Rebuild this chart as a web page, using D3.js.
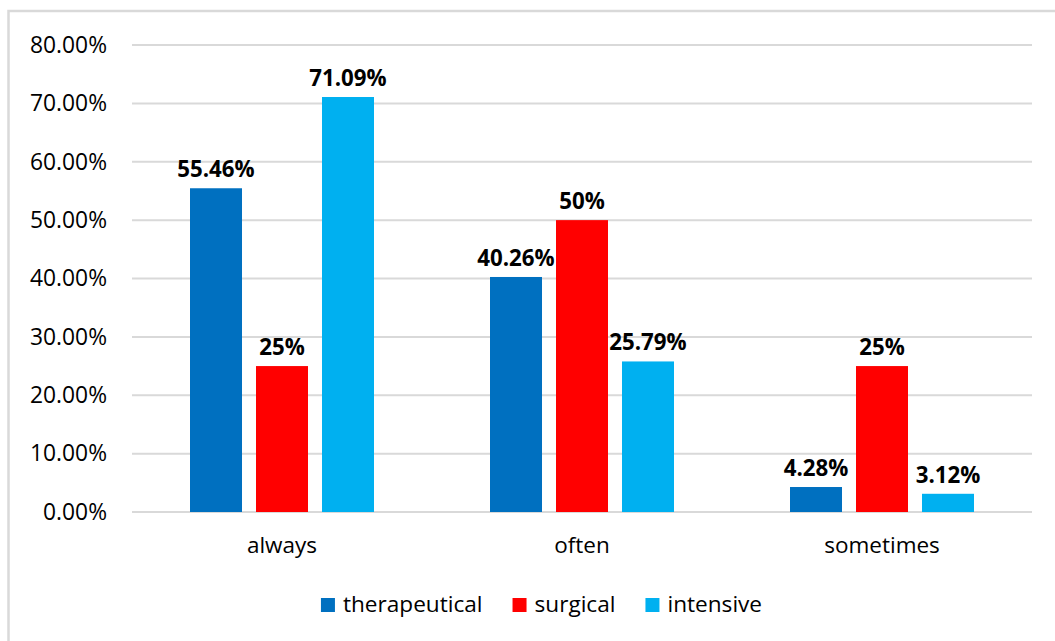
<!DOCTYPE html>
<html>
<head>
<meta charset="utf-8">
<script src="https://cdn.jsdelivr.net/npm/d3@7/dist/d3.min.js"></script>
<style>
  html, body { margin: 0; padding: 0; background: #fff; }
  svg { display: block; font-family: "Open Sans", "Noto Sans", sans-serif; }
</style>
</head>
<body>
<svg id="chart" width="1055" height="641"></svg>
<script>
// Frequency of each answer, by ward type (percent)
const categories = ["always", "often", "sometimes"];
const series = ["therapeutical", "surgical", "intensive"];
const therapeutical = [55.46, 40.26, 4.28];
const surgical = [25, 50, 25];
const intensive = [71.09, 25.79, 3.12];
const valueLabels = {
  therapeutical: ["55.46%", "40.26%", "4.28%"],
  surgical: ["25%", "50%", "25%"],
  intensive: ["71.09%", "25.79%", "3.12%"]
};
const yTicks = [0, 10, 20, 30, 40, 50, 60, 70, 80];
const colors = { therapeutical: "#0070C0", surgical: "#FF0000", intensive: "#00B0F0" };

const values = { therapeutical, surgical, intensive };

const svg = d3.select("#chart");

// outer chart frame
svg.append("rect")
  .attr("x", 8.5).attr("y", 11)
  .attr("width", 1100).attr("height", 700)
  .attr("fill", "none")
  .attr("stroke", "#d9d9d9")
  .attr("stroke-width", 2.5);

const plotLeft = 132, plotRight = 1032, plotTop = 45, plotBottom = 512;

const y = d3.scaleLinear().domain([0, 80]).range([plotBottom, plotTop]);
const x0 = d3.scaleBand().domain(categories).range([plotLeft, plotRight])
  .paddingInner(0.3867).paddingOuter(0.19335);
const x1 = d3.scaleBand().domain(series).range([0, x0.bandwidth()])
  .paddingInner(0.2121).paddingOuter(0);

// horizontal gridlines
svg.append("g")
  .selectAll("line")
  .data(yTicks)
  .join("line")
  .attr("x1", plotLeft).attr("x2", plotRight)
  .attr("y1", d => y(d)).attr("y2", d => y(d))
  .attr("stroke", "#d9d9d9")
  .attr("stroke-width", 2);

// y axis labels
const yAxis = d3.axisLeft(y).tickValues(yTicks)
  .tickFormat(d => d3.format(".2f")(d) + "%")
  .tickSize(0).tickPadding(0);
const yG = svg.append("g").attr("transform", `translate(107,0)`).call(yAxis);
yG.select(".domain").remove();
yG.selectAll("text")
  .attr("font-size", 22.8)
  .attr("font-family", "'Open Sans', sans-serif")
  .attr("fill", "#000");

// category labels
const xAxis = d3.axisBottom(x0).tickSize(0).tickPadding(0);
const xG = svg.append("g").attr("transform", `translate(0,${plotBottom})`).call(xAxis);
xG.select(".domain").remove();
xG.selectAll("text")
  .attr("font-size", 22.5)
  .attr("font-family", "'Open Sans', sans-serif")
  .attr("fill", "#000")
  .attr("dy", null)
  .attr("y", 41);

// bars
const rows = categories.flatMap((c, i) => series.map(s => ({
  cat: c, ser: s, v: values[s][i], label: valueLabels[s][i]
})));

svg.append("g")
  .selectAll("rect")
  .data(rows)
  .join("rect")
  .attr("x", d => x0(d.cat) + x1(d.ser))
  .attr("y", d => y(d.v))
  .attr("width", x1.bandwidth())
  .attr("height", d => y(0) - y(d.v))
  .attr("fill", d => colors[d.ser]);

// value labels
svg.append("g")
  .selectAll("text")
  .data(rows)
  .join("text")
  .attr("x", d => x0(d.cat) + x1(d.ser) + x1.bandwidth() / 2)
  .attr("y", d => y(d.v) - 11)
  .attr("text-anchor", "middle")
  .attr("font-size", 22.3)
  .attr("font-weight", "bold")
  .attr("fill", "#000")
  .text(d => d.label);

// legend
const legend = svg.append("g");
const items = legend.selectAll("g").data(series).join("g");
items.append("rect")
  .attr("width", 14).attr("height", 14)
  .attr("y", -14)
  .attr("fill", d => colors[d]);
items.append("text")
  .attr("x", 22)
  .attr("y", 0)
  .attr("font-size", 22.6)
  .attr("fill", "#000")
  .text(d => d);
let cx = 0;
items.each(function () {
  d3.select(this).attr("transform", `translate(${cx},0)`);
  cx += 22 + this.querySelector("text").getComputedTextLength() + 30;
});
const legendWidth = cx - 30;
legend.attr("transform", `translate(${541.5 - legendWidth / 2},612)`);
</script>
</body>
</html>
